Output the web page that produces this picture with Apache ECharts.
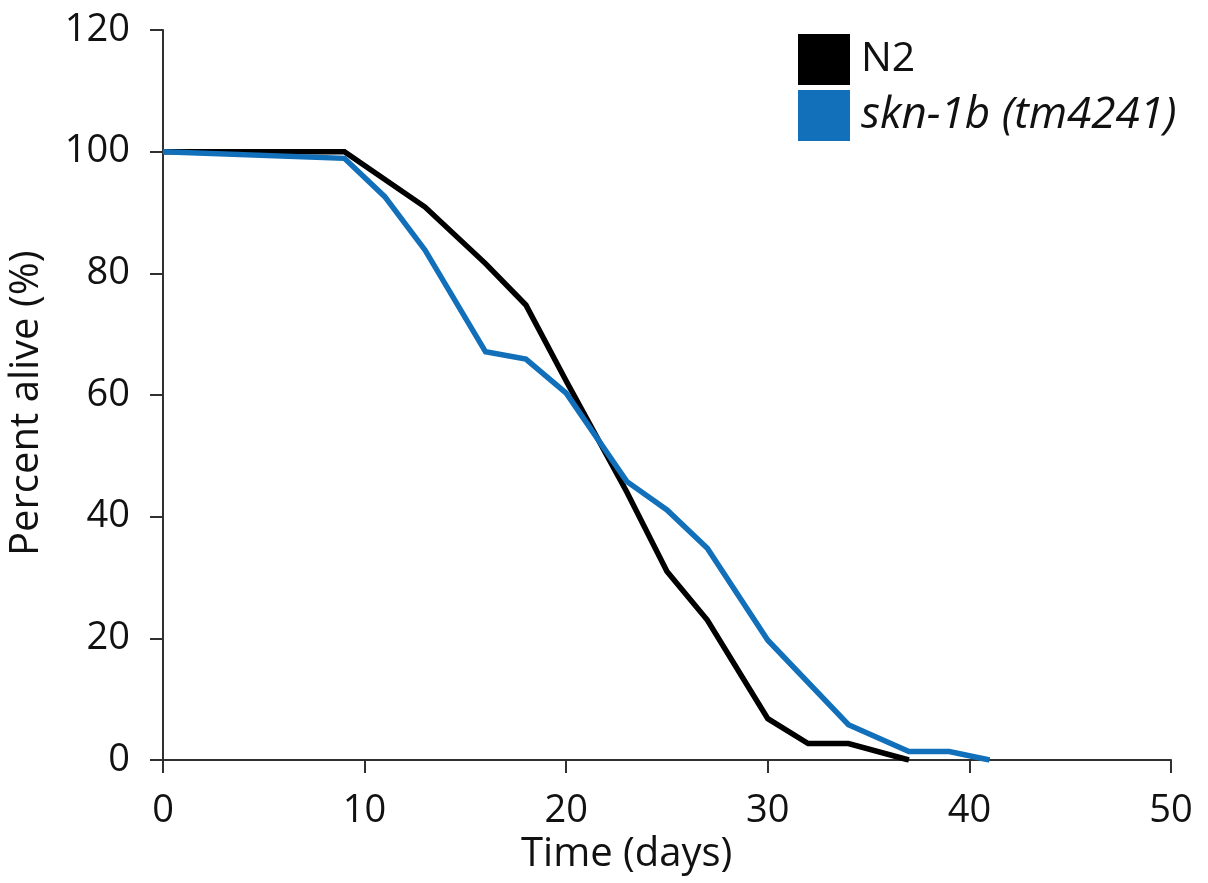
<!DOCTYPE html>
<html>
<head>
<meta charset="utf-8">
<title>Survival curves</title>
<script src="https://cdn.jsdelivr.net/npm/echarts@6/dist/echarts.min.js"></script>
<style>
  html, body { margin: 0; padding: 0; background: #ffffff; }
  #chart { width: 1208px; height: 883px; }
</style>
</head>
<body>
<div id="chart"></div>
<script>
// Lifespan assay: percent of worms alive over time
const seriesNames = ['N2', 'skn-1b (tm4241)'];

const n2Days  = [0, 9, 13, 16, 18, 20, 23, 25, 27, 30, 32, 34, 37];
const n2Alive = [100, 100, 90.9, 81.6, 74.8, 62.3, 44.1, 31.0, 23.0, 6.8, 2.7, 2.7, 0];

const sknDays  = [0, 9, 11, 13, 16, 18, 20, 23, 25, 27, 30, 34, 37, 39, 41];
const sknAlive = [100, 98.9, 92.6, 83.8, 67.1, 65.9, 60.3, 45.8, 41.1, 34.8, 19.7, 5.8, 1.4, 1.4, 0];

const xTicks = [0, 10, 20, 30, 40, 50];
const yTicks = [0, 20, 40, 60, 80, 100, 120];

const FONT = '"Open Sans", "DejaVu Sans", sans-serif';
const seriesColors = ['#000000', '#1170b9'];

function pairs(xs, ys) {
  return xs.map((x, i) => [x, ys[i]]);
}

const chart = echarts.init(document.getElementById('chart'), null, { renderer: 'canvas' });

const axisCommon = {
  type: 'value',
  axisLine: { show: true, lineStyle: { color: '#303030', width: 2 } },
  axisTick: { show: true, inside: false, length: 13, lineStyle: { color: '#303030', width: 2 } },
  splitLine: { show: false },
  axisLabel: { color: '#111111', fontFamily: FONT, fontSize: 38 }
};

chart.setOption({
  animation: false,
  backgroundColor: '#ffffff',
  grid: { left: 163, right: 37, top: 30, bottom: 123, containLabel: false },
  xAxis: Object.assign({}, axisCommon, {
    min: xTicks[0],
    max: xTicks[xTicks.length - 1],
    interval: xTicks[1] - xTicks[0],
    axisLabel: Object.assign({}, axisCommon.axisLabel, { margin: 32 })
  }),
  yAxis: Object.assign({}, axisCommon, {
    min: yTicks[0],
    max: yTicks[yTicks.length - 1],
    interval: yTicks[1] - yTicks[0],
    axisLabel: Object.assign({}, axisCommon.axisLabel, { margin: 33 })
  }),
  legend: {
    orient: 'vertical',
    left: 793,
    top: 29,
    icon: 'rect',
    itemWidth: 52,
    itemHeight: 51,
    itemGap: 5,
    textStyle: { color: '#111111', fontFamily: FONT, fontSize: 41, padding: [0, 0, 0, 6] },
    data: [
      { name: seriesNames[0] },
      { name: seriesNames[1], textStyle: { fontStyle: 'italic', fontSize: 44 } }
    ]
  },
  graphic: [
    {
      type: 'text',
      left: 521,
      top: 835,
      style: { text: 'Time (days)', fill: '#111111', font: '40px ' + FONT }
    },
    {
      type: 'text',
      rotation: Math.PI / 2,
      x: 7,
      y: 556,
      style: { text: 'Percent alive (%)', fill: '#111111', font: '40px ' + FONT, textAlign: 'left', textVerticalAlign: 'top' }
    }
  ],
  series: [
    {
      name: seriesNames[0],
      type: 'line',
      data: pairs(n2Days, n2Alive),
      showSymbol: false,
      color: seriesColors[0],
      lineStyle: { color: seriesColors[0], width: 5.5, join: 'miter' },
      z: 2
    },
    {
      name: seriesNames[1],
      type: 'line',
      data: pairs(sknDays, sknAlive),
      showSymbol: false,
      color: seriesColors[1],
      lineStyle: { color: seriesColors[1], width: 5.5, join: 'miter' },
      z: 3
    }
  ]
});
</script>
</body>
</html>
